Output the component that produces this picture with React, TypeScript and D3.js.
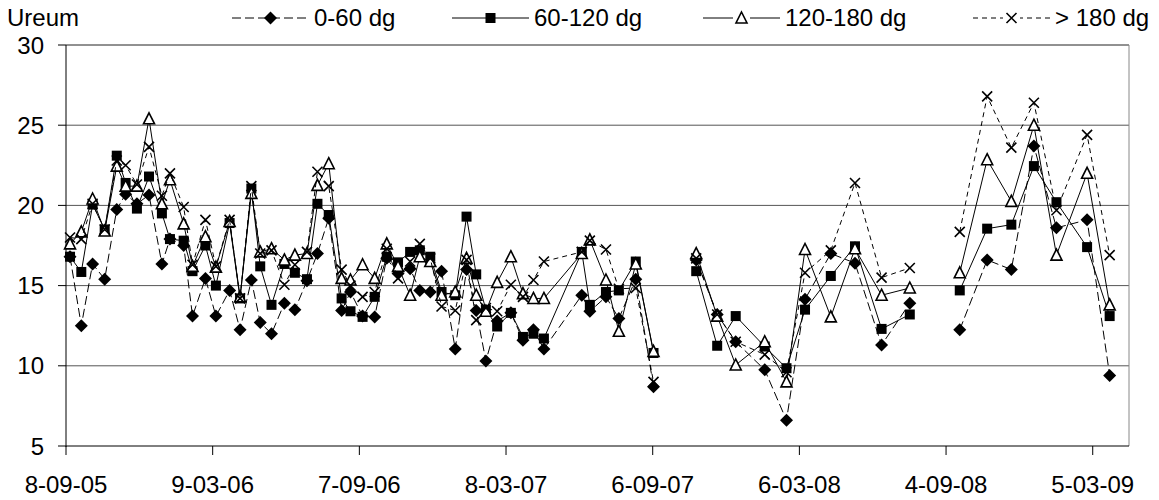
import * as d3 from 'd3';

// sampling dates (null rows mark the breaks in the record)
const dates = [
  '2005-09-13', '2005-09-27', '2005-10-11', '2005-10-26', '2005-11-10', '2005-11-21', '2005-12-05', '2005-12-20',
  '2006-01-05', '2006-01-15', '2006-02-01', '2006-02-12', '2006-02-28', '2006-03-13', '2006-03-30', '2006-04-12',
  '2006-04-26', '2006-05-07', '2006-05-21', '2006-06-06', '2006-06-19', '2006-07-04', '2006-07-17', '2006-07-31',
  '2006-08-16', '2006-08-27', '2006-09-11', '2006-09-26', '2006-10-11', '2006-10-25', '2006-11-09', '2006-11-21',
  '2006-12-04', '2006-12-18', '2007-01-04', '2007-01-18', '2007-01-30', '2007-02-11', '2007-02-25', '2007-03-14',
  '2007-03-29', '2007-04-11', '2007-04-24', '2007-06-10', '2007-06-20', '2007-07-10', '2007-07-26', '2007-08-16',
  '2007-09-07', '2007-10-05', '2007-10-30', '2007-11-25', '2007-12-18', '2008-01-23', '2008-02-19', '2008-03-13',
  '2008-04-14', '2008-05-14', '2008-06-16', '2008-07-21', '2008-08-20', '2008-09-21', '2008-10-25', '2008-11-24',
  '2008-12-22', '2009-01-19', '2009-02-26', '2009-03-26',
];

const dg0_60 = [
  16.8, 12.5, 16.35, 15.4, 19.75, 20.7, 20.1, 20.65, 16.35, 17.9, 17.5, 13.1, 15.45, 13.1, 14.7, 12.25,
  15.35, 12.7, 12.0, 13.9, 13.5, 15.3, 17.0, 19.2, 13.45, 14.6, 13.1, 13.05, 16.7, 15.75, 16.05, 14.7,
  14.6, 15.9, 11.05, 16.0, 13.45, 10.3, 12.8, 13.3, 11.6, 12.25, 11.05, 14.4, 13.4, 14.3, 12.95, 15.4,
  8.7, null, 16.6, 13.2, 11.5, 9.75, 6.6, 14.15, 17.0, 16.4, 11.3, 13.9, null, 12.25, 16.6, 16.0,
  23.7, 18.6, 19.1, 9.4,
];

const dg60_120 = [
  16.8, 15.85, 20.05, 18.5, 23.1, 21.4, 19.8, 21.8, 19.5, 17.9, 17.8, 15.9, 17.5, 15.0, 18.9, 14.2,
  21.05, 16.2, 13.8, 16.35, 15.8, 15.4, 20.1, 19.4, 14.2, 13.4, 13.05, 14.3, 16.8, 16.45, 17.1, 17.2,
  16.8, 14.6, 14.4, 19.3, 15.7, 13.5, 12.45, 13.3, 11.8, 12.0, 11.7, 17.1, 13.8, 14.6, 14.7, 16.5,
  10.8, null, 15.9, 11.25, 13.1, 11.2, 9.85, 13.5, 15.6, 17.45, 12.3, 13.2, null, 14.7, 18.55, 18.8,
  22.45, 20.2, 17.4, 13.1,
];

const dg120_180 = [
  17.6, 18.35, 20.4, 18.4, 22.45, 21.2, 21.2, 25.4, 20.1, 21.6, 18.85, 16.2, 18.05, 16.15, 19.0, 14.3,
  20.75, 17.1, 17.3, 16.6, 16.9, 17.0, 21.25, 22.6, 15.45, 15.35, 16.3, 15.45, 17.6, 16.2, 14.4, 16.8,
  16.5, 14.4, 14.6, 16.7, 14.4, 13.4, 15.2, 16.8, 14.5, 14.2, 14.2, 17.0, 17.85, 15.35, 12.15, 16.35,
  10.9, null, 17.0, 13.1, 10.05, 11.5, 9.0, 17.25, 13.05, 17.3, 14.4, 14.85, null, 15.8, 22.85, 20.25,
  25.0, 16.9, 22.0, 13.8,
];

const dg180 = [
  18.0, 17.9, 20.1, 18.5, 22.8, 22.5, 21.3, 23.65, 20.6, 22.0, 19.9, 16.3, 19.1, 16.2, 19.1, 14.2,
  21.2, 17.0, 17.2, 15.05, 16.3, 17.1, 22.1, 21.2, 16.0, 15.0, 14.3, 14.6, 17.3, 15.45, 16.5, 17.6,
  16.7, 13.7, 13.45, 16.6, 12.85, 13.6, 13.4, 15.05, 14.3, 15.35, 16.5, 17.1, 17.8, 17.25, 14.8, 14.85,
  9.0, null, 16.7, 13.2, 11.5, 10.7, 9.6, 15.8, 17.2, 21.4, 15.5, 16.1, null, 18.35, 26.8, 23.6,
  26.4, 19.7, 24.4, 16.9,
];

const seriesNames = ['0-60 dg', '60-120 dg', '120-180 dg', '> 180 dg'];
const yTicks = [5, 10, 15, 20, 25, 30];
const xTicks = ['2005-09-08', '2006-03-09', '2006-09-07', '2007-03-08', '2007-09-06', '2008-03-06', '2008-09-04', '2009-03-05'];

const W = 1159, H = 500;
const m = { left: 66, right: 1129, top: 45, bottom: 446 };
const font = '"Liberation Sans", Arial, sans-serif';

const parse = d3.timeParse('%Y-%m-%d');
const fmt = d3.timeFormat('%-d-%m-%y');

const x = d3.scaleTime()
  .domain([parse('2005-09-08') as Date, parse('2009-04-19') as Date])
  .range([m.left, m.right]);
const y = d3.scaleLinear().domain([5, 30]).range([m.bottom, m.top]);

const styles = [
  { values: dg0_60, dash: '9 4', marker: 'diamond' },
  { values: dg60_120, dash: null, marker: 'square' },
  { values: dg120_180, dash: null, marker: 'triangle' },
  { values: dg180, dash: '5 4', marker: 'cross' },
];

function Marker({ kind, cx, cy }: { kind: string; cx: number; cy: number }) {
  const t = `translate(${cx},${cy})`;
  if (kind === 'diamond') return <path transform={t} d="M0,-6.5L6.5,0L0,6.5L-6.5,0Z" fill="#000" />;
  if (kind === 'square') return <rect transform={t} x={-5} y={-5} width={10} height={10} fill="#000" />;
  if (kind === 'triangle')
    return <path transform={t} d="M0,-6L5.5,5L-5.5,5Z" fill="#fff" stroke="#000" strokeWidth={1.6} />;
  return <path transform={t} d="M-5,-5L5,5M-5,5L5,-5" fill="none" stroke="#000" strokeWidth={1.6} />;
}

const legendItems = [
  { line: 232, text: 314 },
  { line: 452, text: 534 },
  { line: 703, text: 785 },
  { line: 973, text: 1055 },
];

export default function App() {
  const pts = dates.map((d) => parse(d) as Date);
  const line = d3.line<number | null>()
    .defined((v) => v != null)
    .x((_, i) => x(pts[i]))
    .y((v) => y(v as number));

  return (
    <svg width={W} height={H} style={{ position: 'absolute', left: 0, top: 0, background: '#fff' }} fontFamily={font}>
      <rect width={W} height={H} fill="#fff" />
      {/* grid */}
      {yTicks.filter((t) => t > 5).map((t) => (
        <line key={t} x1={m.left} x2={m.right} y1={y(t)} y2={y(t)} stroke={t === 30 ? '#222' : '#555'} strokeWidth={1} />
      ))}
      <line x1={m.right} x2={m.right} y1={m.top} y2={m.bottom} stroke="#888" />
      {/* y axis */}
      <line x1={m.left} x2={m.left} y1={m.top} y2={m.bottom + 1} stroke="#000" />
      {yTicks.map((t) => (
        <g key={t}>
          <line x1={m.left - 8} x2={m.left} y1={y(t)} y2={y(t)} stroke="#000" />
          <text x={44} y={y(t)} dy="0.36em" textAnchor="end" fontSize={24}>{t}</text>
        </g>
      ))}
      {/* x axis */}
      <line x1={m.left} x2={m.right} y1={m.bottom} y2={m.bottom} stroke="#000" />
      {xTicks.map((d) => {
        const xx = x(parse(d) as Date);
        return (
          <g key={d}>
            <line x1={xx} x2={xx} y1={m.bottom} y2={m.bottom + 9} stroke="#000" />
            <text x={xx} y={493} textAnchor="middle" fontSize={24}>{fmt(parse(d) as Date)}</text>
          </g>
        );
      })}
      {/* series */}
      {styles.map((s, si) => (
        <g key={si}>
          <path d={line(s.values) || ''} fill="none" stroke="#000" strokeWidth={1} strokeDasharray={s.dash || undefined} />
          {s.values.map((v, i) => (v == null ? null : <Marker key={i} kind={s.marker} cx={x(pts[i])} cy={y(v)} />))}
        </g>
      ))}
      {/* title + legend */}
      <text x={7} y={26} fontSize={24}>Ureum</text>
      {styles.map((s, si) => {
        const it = legendItems[si];
        return (
          <g key={si}>
            <line x1={it.line} x2={it.line + 77} y1={18} y2={18} stroke="#000" strokeDasharray={s.dash || undefined} />
            {s.marker === 'triangle' || s.marker === 'cross' ? (
              <rect x={it.line + 30} y={10} width={17} height={16} fill="#fff" />
            ) : null}
            <Marker kind={s.marker} cx={it.line + 38.5} cy={18} />
            <text x={it.text} y={26} fontSize={24}>{seriesNames[si]}</text>
          </g>
        );
      })}
    </svg>
  );
}
